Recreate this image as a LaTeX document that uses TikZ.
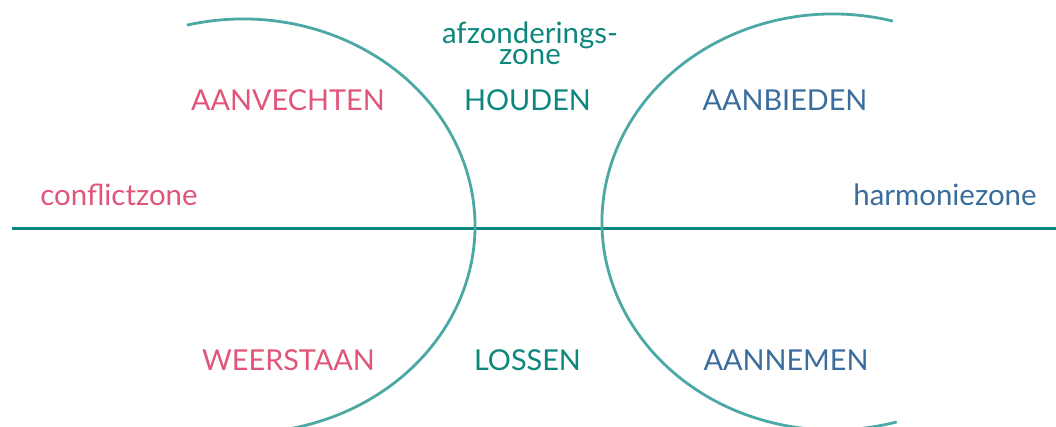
\documentclass[tikz,border=0pt]{standalone}
\usepackage{fontspec}
\setmainfont{Lato}
\usetikzlibrary{positioning,calc}
\definecolor{conflictroze}{HTML}{E0557A}
\definecolor{harmonieblauw}{HTML}{3A6D9D}
\definecolor{afzonderteal}{HTML}{0D877D}
\definecolor{boogteal}{HTML}{4BA8A4}
\tikzset{
    caps/.style={font=\fontsize{14.4}{16}\selectfont, inner sep=0pt, anchor=base},
    zonetekst/.style={font=\fontsize{14.7}{10.5}\selectfont, inner sep=0pt},
    conflict/.style={text=conflictroze},
    harmonie/.style={text=harmonieblauw},
    afzondering/.style={text=afzonderteal},
    boog/.style={draw=boogteal, line width=1.4pt},
    as/.style={draw=afzonderteal, line width=1.5pt}
}

\begin{document}
\begin{tikzpicture}[x=0.5pt, y=0.5pt]
    \useasboundingbox (0,0) rectangle (1056,427);

    % horizontale as
    \coordinate (links) at (12,198);
    \coordinate (rechts) at (1056,198);
    \draw[as] (links) -- (rechts);

    % de twee bogen
    \coordinate (mlinks) at (243,201);
    \coordinate (mrechts) at (833,205);
    \draw[boog] ($(mlinks)+(104:116pt and 103.5pt)$)
        arc[start angle=104, end angle=-78, x radius=116pt, y radius=103.5pt];
    \draw[boog] ($(mrechts)+(75:115.5pt and 104pt)$)
        arc[start angle=75, end angle=286, x radius=115.5pt, y radius=104pt];

    % zones
    \node[zonetekst, conflict, anchor=base west] (conflictzone) at (40,221) {conflictzone};
    \node[zonetekst, harmonie, anchor=base east] (harmoniezone) at (1037,221) {harmoniezone};
    \node[zonetekst, afzondering, align=center, anchor=base] (afzonderingszone) at (530,362) {afzonderings-\\zone};

    % bovenste rij
    \node[caps, conflict] (aanvechten) at (288,316.5) {AANVECHTEN};
    \node[caps, afzondering] (houden) at (527.5,316.5) {HOUDEN};
    \node[caps, harmonie] (aanbieden) at (785,316.5) {AANBIEDEN};

    % onderste rij
    \node[caps, conflict] (weerstaan) at (288.5,56) {WEERSTAAN};
    \node[caps, afzondering] (lossen) at (527.5,56) {LOSSEN};
    \node[caps, harmonie] (aannemen) at (786,56) {AANNEMEN};
\end{tikzpicture}
\end{document}
